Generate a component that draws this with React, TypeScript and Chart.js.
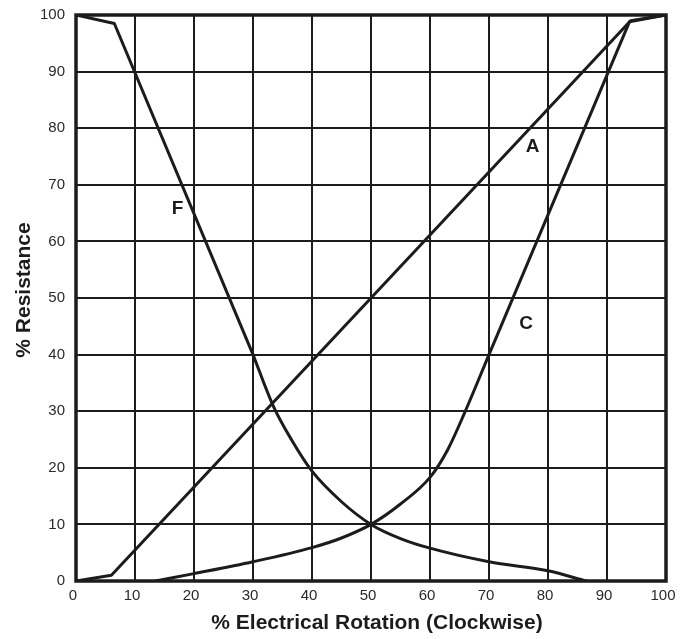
import React, { useEffect, useRef } from "react";
import { Chart, registerables } from "chart.js";
Chart.register(...registerables);

const X_MIN = 0;
const X_MAX = 100;
const Y_MIN = 0;
const Y_MAX = 100;
const TICK_STEP = 10;

const xTitle = "% Electrical Rotation (Clockwise)";
const yTitle = "% Resistance";

// Curve A (linear taper)
const aX = [0, 6, 94, 100];
const aY = [0, 1, 99, 100];
// Curve F: straight section then curved section
const fLineX = [0, 6.5, 30];
const fLineY = [100, 98.5, 40];
const fCurveX = [30, 33.4, 36.5, 40, 45, 50, 55, 60, 70, 80, 86.5];
const fCurveY = [40, 31, 25, 19.4, 14, 10, 7.5, 5.8, 3.4, 1.8, 0];
// Curve C: curved section then straight section
const cCurveX = [13.5, 20, 30, 40, 45, 50, 55, 60, 63, 65.9, 70];
const cCurveY = [0, 1.3, 3.4, 5.9, 7.6, 10, 13.6, 18.3, 23.2, 29.8, 40];
const cLineX = [70, 93.8, 100];
const cLineY = [40, 98.8, 100];

// Curve name labels
const curveNames = ["A", "F", "C"];
const curveNameX = [77.4, 17.2, 76.3];
const curveNameY = [76.9, 65.9, 45.6];

const FONT = "'Liberation Sans', Arial, Helvetica, sans-serif";
const INK = "#1c1c1c";

const pts = (xs: number[], ys: number[]) => xs.map((x, i) => ({ x, y: ys[i] }));

export default function App() {
  const ref = useRef<HTMLCanvasElement | null>(null);
  useEffect(() => {
    if (!ref.current) return;
    const lineDs = (data: any[], curved: boolean) => ({
      data,
      showLine: true,
      borderColor: INK,
      borderWidth: 3,
      pointRadius: 0,
      fill: false,
      cubicInterpolationMode: curved ? "monotone" : "default",
      tension: 0,
      borderCapStyle: "round",
      borderJoinStyle: "round",
    });

    const framePlugin = {
      id: "frameAndLabels",
      afterDatasetsDraw(chart: any) {
        const { ctx, chartArea, scales } = chart;
        ctx.save();
        ctx.fillStyle = INK;
        ctx.font = `bold 19px ${FONT}`;
        ctx.textAlign = "center";
        ctx.textBaseline = "middle";
        curveNames.forEach((n, i) => {
          ctx.fillText(
            n,
            scales.x.getPixelForValue(curveNameX[i]),
            scales.y.getPixelForValue(curveNameY[i]) + 1
          );
        });
        ctx.strokeStyle = INK;
        ctx.lineWidth = 3.5;
        ctx.strokeRect(
          chartArea.left,
          chartArea.top,
          chartArea.right - chartArea.left,
          chartArea.bottom - chartArea.top
        );
        // axis titles
        ctx.font = `bold 21px ${FONT}`;
        ctx.fillText(xTitle, (chartArea.left + chartArea.right) / 2 + 6, 623);
        ctx.translate(24, (chartArea.top + chartArea.bottom) / 2 - 8);
        ctx.rotate(-Math.PI / 2);
        ctx.fillText(yTitle, 0, 0);
        ctx.restore();
      },
    };

    const chart = new Chart(ref.current, {
      type: "scatter",
      data: {
        datasets: [
          lineDs(pts(aX, aY), false),
          lineDs(pts(fLineX, fLineY), false),
          lineDs(pts(fCurveX, fCurveY), true),
          lineDs(pts(cCurveX, cCurveY), true),
          lineDs(pts(cLineX, cLineY), false),
        ] as any,
      },
      options: {
        animation: false,
        responsive: true,
        maintainAspectRatio: false,
        layout: { padding: { left: 0, right: 17, top: 15, bottom: 0 } },
        plugins: { legend: { display: false }, tooltip: { enabled: false } },
        scales: {
          x: {
            type: "linear",
            min: X_MIN,
            max: X_MAX,
            afterFit: (s: any) => {
              s.height = 58;
              s.paddingLeft = 0;
              s.paddingRight = 0;
            },
            border: { display: false },
            grid: { color: INK, lineWidth: 2, drawTicks: false },
            ticks: {
              stepSize: TICK_STEP,
              padding: 6,
              labelOffset: -3,
              color: "#2a2a2a",
              font: { family: FONT, size: 15 },
              maxRotation: 0,
            },
            title: { display: false },
          },
          y: {
            type: "linear",
            min: Y_MIN,
            max: Y_MAX,
            afterFit: (s: any) => {
              s.width = 76;
              s.paddingTop = 0;
              s.paddingBottom = 0;
            },
            border: { display: false },
            grid: { color: INK, lineWidth: 2, drawTicks: false },
            ticks: {
              stepSize: TICK_STEP,
              padding: 11,
              color: "#2a2a2a",
              font: { family: FONT, size: 15 },
            },
            title: { display: false },
          },
        },
      },
      plugins: [framePlugin],
    } as any);
    return () => chart.destroy();
  }, []);

  return (
    <div
      style={{
        position: "absolute",
        left: 0,
        top: 0,
        width: 683,
        height: 639,
        background: "#fff",
      }}
    >
      <canvas ref={ref} />
    </div>
  );
}
